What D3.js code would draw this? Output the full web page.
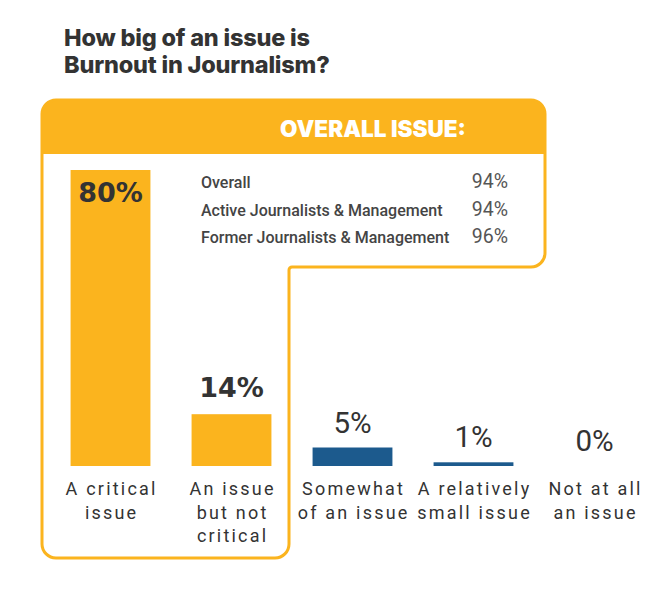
<!DOCTYPE html>
<html>
<head>
<meta charset="utf-8">
<script src="https://cdn.jsdelivr.net/npm/d3@7"></script>
<style>
  body { margin: 0; background: #fff; }
  svg { display: block; }
</style>
</head>
<body>
<div id="chart"></div>
<script>
// Chart data
let categories = ["A critical issue", "An issue but not critical", "Somewhat of an issue",
                  "A relatively small issue", "Not at all an issue"];
let categoryLines = [
  ["A critical", "issue"],
  ["An issue", "but not", "critical"],
  ["Somewhat", "of an issue"],
  ["A relatively", "small issue"],
  ["Not at all", "an issue"]
];
let shares = [80, 14, 5, 1, 0];
let highlighted = [true, true, false, false, false];

let overallGroups = ["Overall", "Active Journalists & Management", "Former Journalists & Management"];
let overallValues = [94, 94, 96];

let titleLines = ["How big of an issue is", "Burnout in Journalism?"];

////////////////////////////////////////////////////////////////////////

let width = 648;
let height = 590;
let orange = "#fbb41e";
let blue = "#1c5a8d";
let ink = "#333333";

let svg = d3.select("#chart")
  .append("svg")
  .attr("width", width).attr("height", height);

// scales: band per category, 0-100% vertically
let xScale = d3.scaleBand()
  .domain(categories)
  .range([50, 655])
  .paddingInner(0.34)
  .paddingOuter(0.17);

let yScale = d3.scaleLinear()
  .domain([0, 100])
  .range([466, 96]);

// title
svg.selectAll(".title")
  .data(titleLines)
  .enter()
  .append("text")
  .attr("class", "title")
  .attr("x", 64)
  .attr("y", (d, i) => 46 + i * 27)
  .style("font-family", "Inter")
  .style("font-weight", 800)
  .style("font-size", "23.5px")
  .style("letter-spacing", "-0.2px")
  .style("fill", "#333")
  .text(d => d);

// the highlight frame (stepped outline) with its header band
let L = 42, T = 100, R = 545, H = 154, S = 267, X = 289, B = 558, r = 14;

let frame = d3.path();
frame.moveTo(L, T + r);
frame.arcTo(L, T, L + r, T, r);
frame.lineTo(R - r, T);
frame.arcTo(R, T, R, T + r, r);
frame.lineTo(R, S - r);
frame.arcTo(R, S, R - r, S, r);
frame.lineTo(X + 3, S);
frame.arcTo(X, S, X, S + 3, 3);
frame.lineTo(X, B - r);
frame.arcTo(X, B, X - r, B, r);
frame.lineTo(L + r, B);
frame.arcTo(L, B, L, B - r, r);
frame.closePath();

let header = d3.path();
header.moveTo(L, H);
header.lineTo(L, T + r);
header.arcTo(L, T, L + r, T, r);
header.lineTo(R - r, T);
header.arcTo(R, T, R, T + r, r);
header.lineTo(R, H);
header.closePath();

svg.append("path")
  .attr("d", header.toString())
  .attr("fill", orange);

svg.append("path")
  .attr("d", frame.toString())
  .attr("fill", "none")
  .attr("stroke", orange)
  .attr("stroke-width", 3);

svg.append("text")
  .attr("x", 373)
  .attr("y", 137)
  .attr("text-anchor", "middle")
  .style("font-family", "Inter")
  .style("font-weight", 900)
  .style("font-size", "22.5px")
  .style("fill", "#fff")
  .text("OVERALL ISSUE:");

// overall rows
let rows = svg.selectAll(".row")
  .data(overallGroups)
  .enter()
  .append("g")
  .attr("class", "row")
  .attr("transform", (d, i) => "translate(0," + (188 + i * 27.5) + ")");

rows.append("text")
  .attr("x", 201)
  .style("font-family", "Roboto")
  .style("font-weight", 500)
  .style("font-size", "16px")
  .style("fill", "#444")
  .text(d => d);

rows.append("text")
  .attr("x", 508)
  .attr("text-anchor", "end")
  .style("font-family", "Roboto")
  .style("font-weight", 400)
  .style("font-size", "19.5px")
  .style("fill", "#555")
  .text((d, i) => overallValues[i] + "%");

// bars
svg.selectAll(".bar")
  .data(categories)
  .enter()
  .append("rect")
  .attr("class", "bar")
  .attr("x", d => xScale(d))
  .attr("width", xScale.bandwidth())
  .attr("y", (d, i) => yScale(shares[i]))
  .attr("height", (d, i) => yScale(0) - yScale(shares[i]))
  .attr("fill", (d, i) => highlighted[i] ? orange : blue);

// value labels: inside the tall bar, above the others
svg.selectAll(".value")
  .data(categories)
  .enter()
  .append("text")
  .attr("class", "value")
  .attr("x", d => xScale(d) + xScale.bandwidth() / 2)
  .attr("y", (d, i) => {
    let top = yScale(shares[i]);
    if (shares[i] > 50) return top + 32;
    return top - (highlighted[i] ? 17 : 15);
  })
  .attr("text-anchor", "middle")
  .style("font-weight", (d, i) => highlighted[i] ? 700 : 400)
  .style("font-family", (d, i) => highlighted[i] ? "DejaVu Sans" : "Roboto")
  .style("font-size", (d, i) => highlighted[i] ? "27px" : "29.5px")
  .style("fill", ink)
  .text((d, i) => shares[i] + "%");

// category labels
svg.selectAll(".cat")
  .data(categories)
  .enter()
  .append("text")
  .attr("class", "cat")
  .attr("text-anchor", "middle")
  .style("font-family", "Roboto")
  .style("font-size", "18px")
  .style("letter-spacing", "2.2px")
  .style("fill", ink)
  .each(function(d, i) {
    let cx = xScale(d) + xScale.bandwidth() / 2;
    d3.select(this).selectAll("tspan")
      .data(categoryLines[i])
      .enter()
      .append("tspan")
      .attr("x", cx + 1.1)
      .attr("y", (line, j) => 495 + j * 23.5)
      .text(line => line);
  });
</script>
</body>
</html>
